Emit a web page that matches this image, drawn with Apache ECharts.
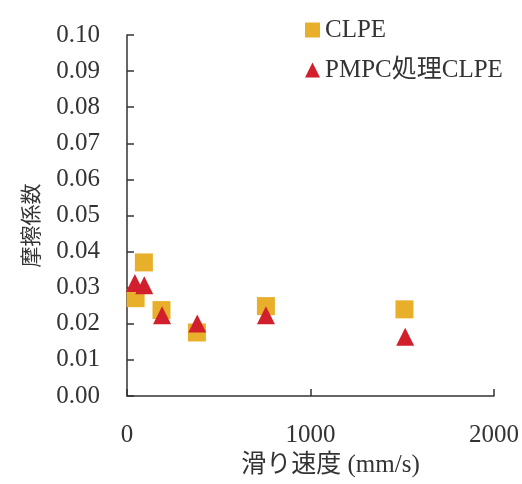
<!DOCTYPE html>
<html>
<head>
<meta charset="utf-8">
<script src="https://cdn.jsdelivr.net/npm/echarts@6/dist/echarts.min.js"></script>
<style>
  html, body { margin: 0; padding: 0; background: #fff; }
  #chart { width: 522px; height: 484px; }
</style>
</head>
<body>
<div id="chart"></div>
<script>
// 滑り速度 (mm/s)
const speedClpe = [47, 92, 188, 381, 757, 1512];
const muClpe = [0.0271, 0.0370, 0.0238, 0.0176, 0.0249, 0.0240];
const speedPmpc = [43, 94, 191, 383, 757, 1516];
const muPmpc = [0.0313, 0.0307, 0.0224, 0.0201, 0.0224, 0.0164];

const serif = '"Liberation Serif", "DejaVu Serif", serif';
const cjk = '"Liberation Serif", "Noto Sans CJK JP", serif';

const myChart = echarts.init(document.getElementById('chart'));
const option = {
  animation: false,
  legend: {
    orient: 'vertical',
    left: 300,
    top: 12,
    itemGap: 14,
    itemWidth: 15,
    itemHeight: 15,
    textStyle: { fontFamily: cjk, fontSize: 25, lineHeight: 26, color: '#333' },
    data: [
      { name: 'CLPE', icon: 'rect' },
      { name: 'PMPC処理CLPE', icon: 'triangle' }
    ]
  },
  grid: { left: 127, right: 26, top: 35, bottom: 88 },
  xAxis: {
    type: 'value',
    min: 0, max: 2000, interval: 1000,
    name: '滑り速度 (mm/s)',
    nameLocation: 'middle',
    nameGap: 54,
    nameTextStyle: { fontFamily: cjk, fontSize: 25, color: '#333', padding: [0, 0, 0, 40] },
    axisLine: { lineStyle: { color: '#333', width: 1.5 } },
    axisTick: { inside: true, length: 7, lineStyle: { color: '#333', width: 1.5 } },
    axisLabel: { margin: 27, fontFamily: serif, fontSize: 25, color: '#333', formatter: v => String(v) },
    splitLine: { show: false }
  },
  yAxis: {
    type: 'value',
    min: 0, max: 0.1, interval: 0.01,
    name: '摩擦係数',
    nameLocation: 'middle',
    nameGap: 84,
    nameTextStyle: { fontFamily: cjk, fontSize: 21, color: '#333', padding: [0, 20, 0, 0] },
    axisLine: { show: true, lineStyle: { color: '#333', width: 1.5 } },
    axisTick: { show: true, inside: true, length: 7, lineStyle: { color: '#333', width: 1.5 } },
    axisLabel: {
      margin: 27, fontFamily: serif, fontSize: 25, color: '#333',
      formatter: v => v.toFixed(2)
    },
    splitLine: { show: false }
  },
  series: [
    {
      name: 'CLPE',
      type: 'scatter',
      symbol: 'rect',
      symbolSize: 18,
      itemStyle: { color: '#E8B02A', opacity: 1 },
      data: speedClpe.map((s, i) => [s, muClpe[i]])
    },
    {
      name: 'PMPC処理CLPE',
      type: 'scatter',
      symbol: 'triangle',
      symbolSize: 18,
      itemStyle: { color: '#D11F2C', opacity: 1 },
      data: speedPmpc.map((s, i) => [s, muPmpc[i]])
    }
  ]
};
myChart.setOption(option);
</script>
</body>
</html>
